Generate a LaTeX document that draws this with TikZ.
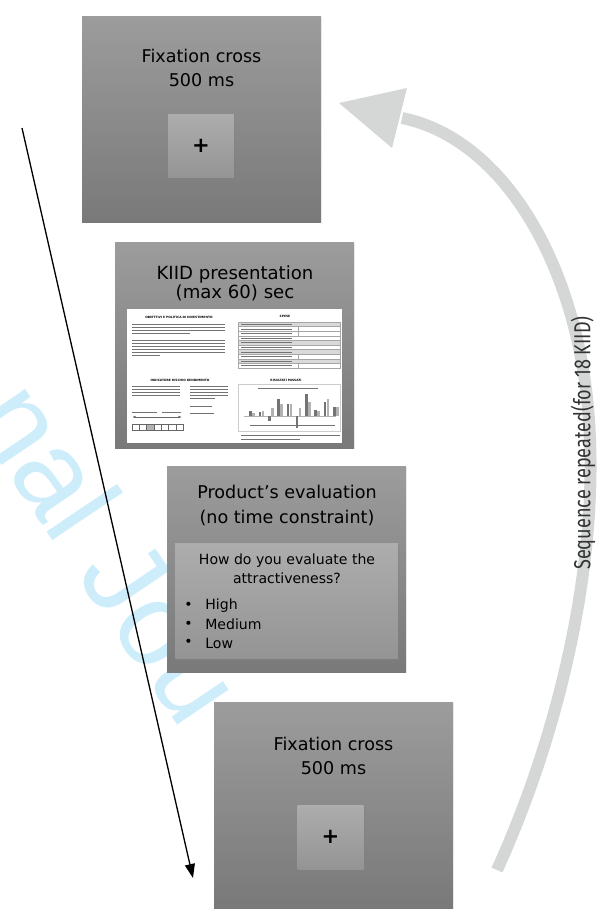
\documentclass[tikz,border=0pt]{standalone}
\usepackage{fontspec}
\setmainfont{DejaVu Sans}
\newfontfamily\labelfont[FakeStretch=0.78]{Fira Sans}
\newfontfamily\markfont{Liberation Sans}
\usetikzlibrary{arrows.meta,shadows}
\definecolor{screentop}{RGB}{156,156,156}
\definecolor{screenbot}{RGB}{121,121,121}
\definecolor{cardtop}{RGB}{173,173,173}
\definecolor{cardbot}{RGB}{148,148,148}
\definecolor{loopgray}{RGB}{213,215,215}
\definecolor{markblue}{RGB}{206,237,251}
\begin{document}
\begin{tikzpicture}[x=0.02cm,y=-0.02cm,
    screen/.style={top color=screentop,bottom color=screenbot,minimum width=4.78cm,minimum height=4.12cm,inner sep=0pt,
      drop shadow={opacity=0.18,shadow xshift=0.5pt,shadow yshift=-0.5pt}},
    card/.style={top color=cardtop,bottom color=cardbot,inner sep=0pt,
      drop shadow={opacity=0.4,shadow xshift=0.6pt,shadow yshift=-1pt}},
    title/.style={align=center,font=\fontsize{10}{13.7}\selectfont},
    answer/.style={anchor=west,inner sep=0pt,font=\fontsize{8}{10}\selectfont},
    docline/.style={black!55,line width=0.5pt},
    dochead/.style={font=\fontsize{1.7}{2}\selectfont\bfseries,inner sep=0pt}]
  \clip (0,0) rectangle (605,923);
  \node[font=\markfont\fontsize{67}{67}\selectfont,text=markblue,rotate=-56,anchor=base west] (mark) at (-34,412) {nal Jou};

  % sequence screens
  \node[screen] (fixtop) at (201.5,119.5) {};
  \node[title] (fixtoptext) at (201.5,68) {Fixation cross\\500 ms};
  \node[card,minimum width=1.32cm,minimum height=1.28cm] (fixtopcross) at (201,146) {\fontsize{12}{12}\selectfont\bfseries +};

  \node[screen] (kiid) at (234.5,345.5) {};
  \node[title,font=\fontsize{10.3}{10.8}\selectfont] (kiidtext) at (235,283) {KIID presentation\\(max 60) sec};
  \node[fill=white,minimum width=4.3cm,minimum height=2.68cm,inner sep=0pt] (kiiddoc) at (234.5,376) {};

  \node[screen] (eval) at (286.5,569.5) {};
  \node[title] (evaltext) at (287,505.5) {Product’s evaluation\\(no time constraint)};
  \node[card,minimum width=4.46cm,minimum height=2.32cm] (evalcard) at (286.5,601) {};
  \node[align=center,font=\fontsize{8}{10.8}\selectfont] (evalquestion) at (287,568.5) {How do you evaluate the\\attractiveness?};
  \foreach \answer [count=\i] in {High,Medium,Low} {
    \node[answer] (dot\i) at (184,587.5+18.5*\i) {•};
    \node[answer] (answer\i) at (205,587.5+18.5*\i) {\answer};
  }

  \node[screen] (fixbot) at (333.5,805.5) {};
  \node[title] (fixbottext) at (333.5,755.5) {Fixation cross\\500 ms};
  \node[card,minimum width=1.32cm,minimum height=1.28cm] (fixbotcross) at (330.5,837) {\fontsize{12}{12}\selectfont\bfseries +};

  % KIID sheet
  \node[dochead] (docgoal) at (179,317) {OBIETTIVI E POLITICA DI INVESTIMENTO};
  \node[dochead] (doccost) at (285,316) {SPESE};
  \node[dochead] (docrisk) at (180,380) {INDICATORE RISCHIO RENDIMENTO};
  \node[dochead] (docpast) at (286,380) {RISULTATI PASSATI};
  \foreach \y in {324,327,330} \draw[docline] (132,\y) -- (225,\y);
  \draw[docline] (132,333) -- (190,333);
  \foreach \y in {340,343,...,352} \draw[docline] (132,\y) -- (225,\y);
  \draw[docline] (132,355) -- (160,355);
  \foreach \r in {0,4,6,8} \fill[gray!30] (238,322+4.6*\r) rectangle (340,326.6+4.6*\r);
  \foreach \r in {0,...,9} {
    \draw[gray!70,line width=0.2pt] (238,322+4.6*\r) rectangle (340,326.6+4.6*\r);
    \draw[docline,line width=0.35pt] (241,324.3+4.6*\r) -- (292,324.3+4.6*\r);
  }
  \foreach \r in {1,2,7,9} \draw[gray!70,line width=0.2pt] (298,322+4.6*\r) -- (298,326.6+4.6*\r);
  \foreach \y in {386,389.2,392.4,395.6} {
    \draw[docline] (132,\y) -- (180,\y);
    \draw[docline] (190,\y) -- (228,\y);
  }
  \draw[docline] (190,398.8) -- (215,398.8);
  \draw[docline] (190,406) -- (212,406);
  \draw[docline] (190,413) -- (214,413);
  \draw[docline] (132,412) -- (157,412);
  \draw[docline] (162,412) -- (181,412);
  \draw[black!60,line width=0.4pt,{Latex[length=2pt]}-{Latex[length=2pt]}] (132,417) -- (182,417);
  \fill[gray!60] (146.6,424) rectangle (153.9,430);
  \foreach \b in {0,...,6} \draw[black!60,line width=0.3pt] (132+7.3*\b,424) rectangle (139.3+7.3*\b,430);
  \draw[gray!40,line width=0.3pt] (238,384) rectangle (340,431);
  \draw[docline,line width=0.3pt] (258,388) -- (318,388);
  \draw[gray!60,line width=0.25pt] (244,416) -- (336,416);
  \foreach \dark/\light [count=\g] in {5/3,4/5,-5/8,17/12,12/12,-12/8,22/14,6/5,14/17,9/9} {
    \fill[black!55] (240+9.3*\g,416) rectangle (242.6+9.3*\g,416-\dark);
    \fill[black!30] (243,416) ++(9.3*\g,0) rectangle ++(2.6,-\light);
  }
  \draw[docline,line width=0.3pt] (250,425) -- (335,425);
  \draw[docline] (241,435) -- (340,435);
  \draw[docline] (241,439) -- (300,439);

  % time line and repeat loop
  \coordinate (timestart) at (22,128);
  \coordinate (timeend) at (193,878);
  \draw[line width=0.75pt,-{Triangle[length=0.28cm,width=0.2cm]}] (timestart) -- (timeend);

  \coordinate (loopstart) at (497,870);
  \coordinate (loopturn) at (590,440);
  \coordinate (loopneck) at (402,118);
  \coordinate (loopend) at (339,103);
  \coordinate (headtop) at (407,88);
  \coordinate (headbottom) at (392,148);
  \draw[loopgray,line width=0.24cm] (loopstart) .. controls (565,720) and (595,560) .. (loopturn)
    .. controls (585,280) and (510,140) .. (loopneck);
  \fill[loopgray] (loopend) -- (headtop) -- (headbottom) -- cycle;
  \node[rotate=90,font=\labelfont\fontsize{13.2}{13.2}\selectfont,text=black!80] (looplabel) at (583,443) {Sequence repeated(for 18 KIID)};
\end{tikzpicture}
\end{document}
